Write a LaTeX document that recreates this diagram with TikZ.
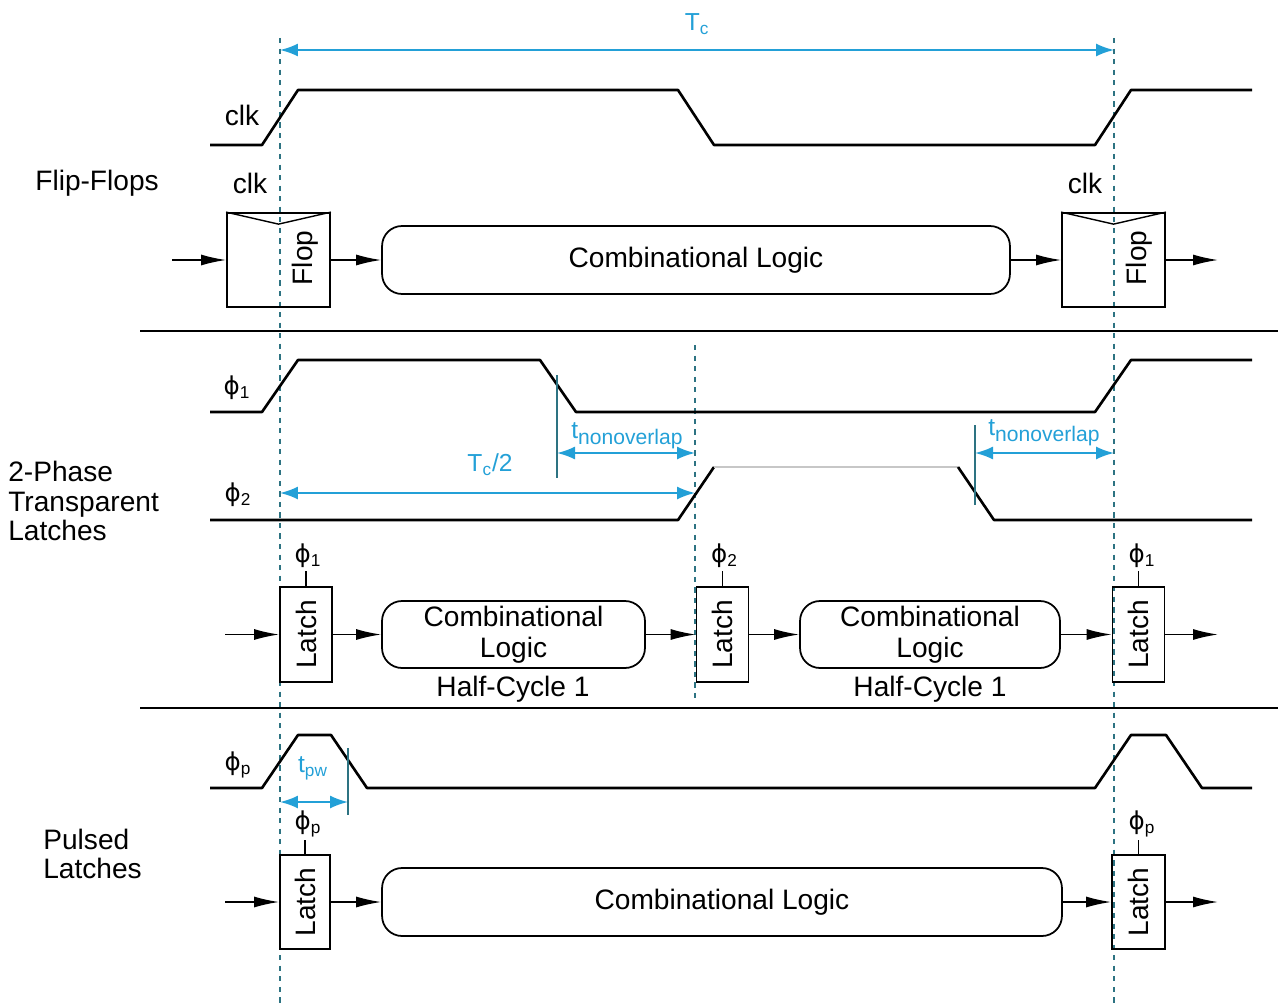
\documentclass[tikz,border=0pt]{standalone}
\usepackage{fontspec}
\setmainfont{Liberation Sans}
\newfontfamily\phfont{DejaVu Sans}
\usepackage{tikz}
\usetikzlibrary{arrows.meta,positioning,calc}
\definecolor{dimblue}{RGB}{35,160,215}
\definecolor{guidecol}{RGB}{45,115,130}

\begin{document}
\begin{tikzpicture}[x=0.02cm, y=-0.02cm, >=Latex,
  wave/.style={line width=1.5pt, line join=round},
  reg/.style={draw, line width=1pt, inner sep=0pt, minimum width=1.04cm, minimum height=1.9cm},
  logic/.style={draw, rounded corners=0.4cm, line width=1pt, inner sep=0pt, align=center,
    font=\fontsize{16}{17.5}\selectfont},
  sig/.style={-{Latex[length=5mm,width=2.2mm]}, line width=0.85pt},
  dim/.style={{Latex[length=3.6mm,width=2.6mm]}-{Latex[length=3.6mm,width=2.6mm]}, dimblue, line width=1.1pt},
  guide/.style={guidecol, dashed, line width=0.7pt},
  tick/.style={guidecol, line width=0.8pt},
  txt/.style={font=\fontsize{16}{17}\selectfont, inner sep=0pt},
  ph/.style={font=\fontsize{14}{16}\selectfont, inner sep=1.5pt},
  dimtxt/.style={dimblue, font=\fontsize{14}{16}\selectfont, inner sep=0pt}]
  \useasboundingbox (0,0) rectangle (1278,1007);

  % guide lines at the clock edges
  \foreach \gx/\gt/\gb in {280/38/1007, 1114/38/1007, 695/345/700}
    \draw[guide] (\gx,\gt) -- (\gx,\gb);
  \draw[line width=0.9pt] (140,331) -- (1278,331);
  \draw[line width=0.9pt] (140,708) -- (1278,708);

  % cycle time
  \coordinate (tcL) at (280,50);
  \coordinate (tcR) at (1114,50);
  \draw[dim] (tcL) -- (tcR);
  \node[dimtxt] (tc) at (697,24) {T\textsubscript{c}};

  %%% flip-flops
  \node[txt, anchor=west] (fflab) at (35,183) {Flip-Flops};
  \node[txt] (clklab) at (242,115) {clk};
  \draw[wave] (210,145)--(262,145)--(298,90)--(678,90)--(714,145)--(1095,145)--(1131,90)--(1252,90);
  \node[reg, minimum width=2.06cm, minimum height=1.88cm] (ff1) at (278.5,260) {};
  \node[reg, minimum width=2.06cm, minimum height=1.88cm] (ff2) at (1113.5,260) {};
  \draw[line width=0.8pt] (ff1.north west) -- ($(ff1.north)+(0,12)$) -- (ff1.north east);
  \draw[line width=0.8pt] (ff2.north west) -- ($(ff2.north)+(0,12)$) -- (ff2.north east);
  \node[txt, rotate=90] (ff1t) at (305,258) {Flop};
  \node[txt, rotate=90] (ff2t) at (1139,258) {Flop};
  \node[txt] (ck1) at (250,183) {clk};
  \node[txt] (ck2) at (1085,183) {clk};
  \node[logic, minimum width=12.56cm, minimum height=1.36cm] (cl) at (696,260) {Combinational Logic};
  \coordinate (ffin) at (172,260);
  \coordinate (ffout) at (1218,260);
  \draw[sig] (ffin) -- (ff1.west);
  \draw[sig] (ff1.east) -- (cl.west);
  \draw[sig] (cl.east) -- (ff2.west);
  \draw[sig] (ff2.east) -- (ffout);

  %%% two-phase latches
  \node[txt, anchor=west, align=left] (tplab) at (8,501) {2-Phase\\Transparent\\Latches};
  \node[ph] (p1w) at (237,388) {{\phfont ϕ}\textsubscript{1}};
  \node[ph] (p2w) at (238,495) {{\phfont ϕ}\textsubscript{2}};
  \draw[wave] (210,412)--(262,412)--(298,360)--(540,360)--(576,412)--(1095,412)--(1131,360)--(1252,360);
  \draw[wave] (210,520)--(678,520)--(714,467);
  \draw[wave, black!22] (714,467)--(958,467);
  \draw[wave] (958,467)--(994,520)--(1252,520);
  % nonoverlap and half cycle
  \draw[tick] (557,375) -- (557,478);
  \draw[tick] (975,425) -- (975,505);
  \coordinate (no1a) at (557,453);
  \coordinate (no1b) at (695,453);
  \coordinate (no2a) at (975,453);
  \coordinate (no2b) at (1114,453);
  \coordinate (hcL) at (280,493);
  \coordinate (hcR) at (695,493);
  \draw[dim] (no1a) -- (no1b);
  \draw[dim] (no2a) -- (no2b);
  \draw[dim] (hcL) -- (hcR);
  \node[dimtxt, anchor=west] (no1) at (571,436) {t\raisebox{-0.45ex}{\fontsize{12}{14}\selectfont nonoverlap}};
  \node[dimtxt, anchor=west] (no2) at (988,433) {t\raisebox{-0.45ex}{\fontsize{12}{14}\selectfont nonoverlap}};
  \node[dimtxt] (hc) at (490,465) {T\textsubscript{c}/2};

  \node[reg, label={[rotate=90, txt]center:Latch}] (l1) at (306,634.5) {};
  \node[reg, label={[rotate=90, txt]center:Latch}] (l2) at (722.5,634.5) {};
  \node[reg, label={[rotate=90, txt]center:Latch}] (l3) at (1138.5,634.5) {};
  \node[ph] (l1c) at (308,556) {{\phfont ϕ}\textsubscript{1}};
  \node[ph] (l2c) at (724.5,556) {{\phfont ϕ}\textsubscript{2}};
  \node[ph] (l3c) at (1142,556) {{\phfont ϕ}\textsubscript{1}};
  \draw[line width=0.8pt] (l1.north) -- (l1.north |- l1c.south);
  \draw[line width=0.8pt] (l2.north) -- (l2.north |- l2c.south);
  \draw[line width=0.8pt] (l3.north) -- (l3.north |- l3c.south);
  \node[logic, minimum width=5.26cm, minimum height=1.34cm] (cla) at (513.5,634.5) {Combinational\\Logic};
  \node[logic, minimum width=5.2cm, minimum height=1.34cm] (clb) at (930,634.5) {Combinational\\Logic};
  \node[txt] (hca) at (513,689) {Half-Cycle 1};
  \node[txt] (hcb) at (930,689) {Half-Cycle 1};
  \coordinate (lin) at (225,634.5);
  \coordinate (lout) at (1218,634.5);
  \draw[sig] (lin) -- (l1.west);
  \draw[sig] (l1.east) -- (cla.west);
  \draw[sig] (cla.east) -- (l2.west);
  \draw[sig] (l2.east) -- (clb.west);
  \draw[sig] (clb.east) -- (l3.west);
  \draw[sig] (l3.east) -- (lout);

  %%% pulsed latches
  \node[txt, anchor=west, align=left] (pllab) at (43,854) {Pulsed\\Latches};
  \node[ph] (ppw) at (238,765) {{\phfont ϕ}\textsubscript{p}};
  \draw[wave] (210,788)--(262,788)--(298,735)--(331,735)--(367,788)--(1095,788)--(1131,735)--(1166,735)--(1202,788)--(1252,788);
  \draw[tick] (348,748) -- (348,815);
  \coordinate (pwL) at (280,802);
  \coordinate (pwR) at (348,802);
  \draw[dim] (pwL) -- (pwR);
  \node[dimtxt] (pw) at (313,768) {t\textsubscript{pw}};

  \node[reg, minimum width=1.0cm, minimum height=1.88cm, label={[rotate=90, txt]center:Latch}] (pl1) at (305,902) {};
  \node[reg, minimum width=1.06cm, minimum height=1.88cm, label={[rotate=90, txt]center:Latch}] (pl2) at (1138.5,902) {};
  \node[ph] (pl1c) at (308,824) {{\phfont ϕ}\textsubscript{p}};
  \node[ph] (pl2c) at (1142,824) {{\phfont ϕ}\textsubscript{p}};
  \draw[line width=0.8pt] (pl1.north) -- (pl1.north |- pl1c.south);
  \draw[line width=0.8pt] (pl2.north) -- (pl2.north |- pl2c.south);
  \node[logic, minimum width=13.6cm, minimum height=1.36cm] (clp) at (722,902) {Combinational Logic};
  \coordinate (pin) at (225,902);
  \coordinate (pout) at (1218,902);
  \draw[sig] (pin) -- (pl1.west);
  \draw[sig] (pl1.east) -- (clp.west);
  \draw[sig] (clp.east) -- (pl2.west);
  \draw[sig] (pl2.east) -- (pout);
\end{tikzpicture}
\end{document}
